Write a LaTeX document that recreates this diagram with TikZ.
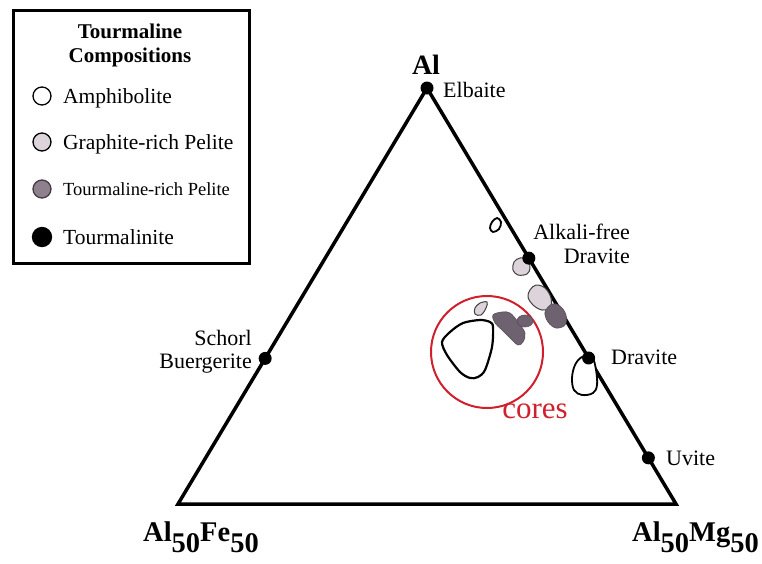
\documentclass[tikz,border=0pt]{standalone}
\usepackage{fontspec}
\setmainfont{Liberation Serif}
\usetikzlibrary{calc}
\definecolor{pinkfill}{HTML}{DDD3DB}
\definecolor{darkblob}{HTML}{6F6270}
\definecolor{legdark}{HTML}{8E808D}
\definecolor{corered}{HTML}{D0202E}
\tikzset{
  dot/.style={circle, fill=black, minimum size=13pt, inner sep=0pt},
  lbl/.style={inner sep=0pt, font=\fontsize{22}{24}\selectfont},
  legtext/.style={inner sep=0pt, anchor=base west, font=\fontsize{21.5}{24}\selectfont},
  legtitle/.style={inner sep=0pt, anchor=base, font=\bfseries\fontsize{21}{24}\selectfont},
  corner/.style={inner sep=0pt, anchor=base west, font=\bfseries\fontsize{28.5}{30}\selectfont},
  legcirc/.style={circle, draw=black, line width=1.3pt, minimum size=18pt, inner sep=0pt},
  whiteblob/.style={draw=black, fill=white, line width=1.8pt},
  pinkblob/.style={draw=black!75, fill=pinkfill, line width=1pt},
  darkb/.style={draw=darkblob!80!black, fill=darkblob, line width=0.6pt},
  tri/.style={line width=3.5pt, line join=miter},
}
\begin{document}
\begin{tikzpicture}[x=1pt,y=-1pt]
\useasboundingbox (0,0) rectangle (762,563);
% legend
\draw[line width=3pt] (13,10) rectangle (249,263);
\node[legtitle] (lt1) at (130,38) {Tourmaline};
\node[legtitle] (lt2) at (130,62) {Compositions};
\node[legcirc, fill=white] (lc1) at (42,96) {};
\node[legtext] (ltx1) at (63,103) {Amphibolite};
\node[legcirc, fill=pinkfill] (lc2) at (42,142) {};
\node[legtext] (ltx2) at (63,149) {Graphite-rich Pelite};
\node[legcirc, fill=legdark, draw=darkblob!60!black] (lc3) at (42,189) {};
\node[legtext, font=\fontsize{18.5}{21}\selectfont] (ltx3) at (63,195) {Tourmaline-rich Pelite};
\node[legcirc, fill=black, minimum size=19pt] (lc4) at (42,237) {};
\node[legtext] (ltx4) at (63,244) {Tourmalinite};
% triangle
\coordinate (A) at (427,88);
\coordinate (B) at (178,504);
\coordinate (C) at (676,504);
\draw[tri] (A) -- (B) -- (C) -- cycle;
% red circle
\node[circle, draw=corered, line width=2pt, minimum size=112pt, inner sep=0pt] (rc) at (487,352) {};
\node[inner sep=0pt, text=corered, font=\fontsize{31}{33}\selectfont] (cores) at (535,411) {cores};
% blobs
\draw[whiteblob] plot[smooth cycle, tension=0.6] coordinates {(492,222) (497,218) (501,222) (499,229) (493,232) (490,228)};
\draw[pinkblob] plot[smooth cycle, tension=0.6] coordinates {(514,262) (520,258) (528,260) (530,268) (527,274) (518,275) (513,270)};
\draw[pinkblob] plot[smooth cycle, tension=0.6] coordinates {(530,290) (536,285) (545,288) (551,298) (550,308) (542,310) (533,305) (528,297)};
\draw[darkb] plot[smooth cycle, tension=0.6] coordinates {(545,312) (552,304) (560,306) (566,315) (565,325) (556,328) (548,322)};
\draw[pinkblob] plot[smooth cycle, tension=0.6] coordinates {(480,303) (487,302) (486,308) (481,315) (475,314) (475,308)};
\draw[whiteblob, line width=2.2pt] plot[smooth cycle, tension=0.5] coordinates {(442,342) (450,332) (463,323) (480,320) (490,322) (493,327) (492,347) (485,370) (478,377) (470,378) (460,372) (447,355)};
\draw[darkb] plot[smooth cycle, tension=0.6] coordinates {(493,315) (502,312) (510,313) (518,322) (525,333) (523,342) (518,345) (512,340) (502,330) (495,323)};
\draw[darkb] (525,321) ellipse [x radius=8pt, y radius=6pt];
\draw[whiteblob] plot[smooth cycle, tension=0.6] coordinates {(575,365) (582,357) (592,357) (596,370) (597,385) (593,393) (582,395) (574,390) (572,378)};
% end-member dots
\node[dot] (elb) at (A) {};
\node[dot] (afd) at ($(A)!0.409!(C)$) {};
\node[dot] (drv) at ($(A)!0.649!(C)$) {};
\node[dot] (uvi) at ($(A)!0.889!(C)$) {};
\node[dot] (sch) at ($(A)!0.65!(B)$) {};
% labels
\node[inner sep=0pt, anchor=base, font=\bfseries\fontsize{28}{30}\selectfont] (al) at (426,74) {Al};
\node[lbl, anchor=base west] (lelb) at (443,97) {Elbaite};
\node[lbl, anchor=base east] (lafd1) at (630,239) {Alkali-free};
\node[lbl, anchor=base east] (lafd2) at (630,263) {Dravite};
\node[lbl, anchor=base west] (ldrv) at (611,364) {Dravite};
\node[lbl, anchor=base west] (luvi) at (666,465) {Uvite};
\node[lbl, anchor=base east] (lsch1) at (252,345) {Schorl};
\node[lbl, anchor=base east] (lsch2) at (252,368) {Buergerite};
\node[corner] (lfe) at (143,541) {Al\raisebox{-0.4em}{50}Fe\raisebox{-0.4em}{50}};
\node[corner] (lmg) at (632,541) {Al\raisebox{-0.4em}{50}Mg\raisebox{-0.4em}{50}};
\end{tikzpicture}
\end{document}
